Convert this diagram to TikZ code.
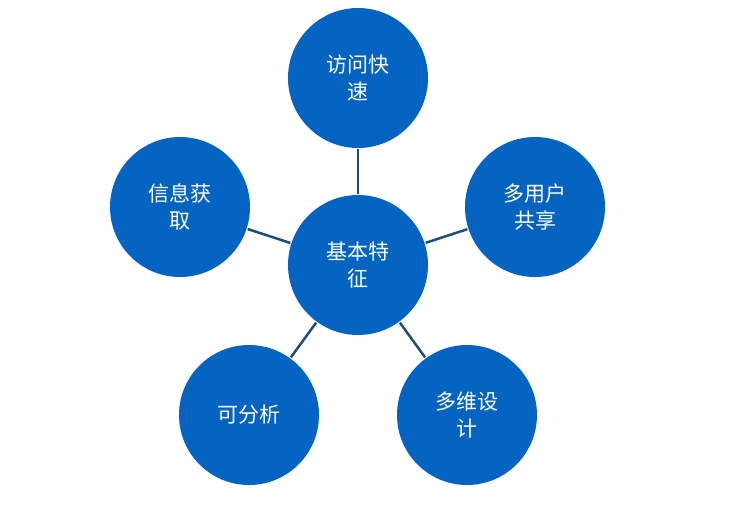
\documentclass[tikz,border=0pt]{standalone}
\usepackage{fontspec}
\setmainfont{Noto Sans CJK SC}
\definecolor{cfill}{RGB}{5,99,193}
\definecolor{cline}{RGB}{31,78,121}
\begin{document}
\begin{tikzpicture}[x=1pt,y=-1pt,
  circ/.style={circle,fill=cfill,minimum size=140pt,inner sep=0pt,text=white,font=\fontsize{21}{27}\selectfont,align=center},
  link/.style={draw=cline,line width=2.5pt,shorten <=1pt,shorten >=1pt}]
\useasboundingbox (0,0) rectangle (750,507);
\node[circ] (c) at (358,265) {基本特\\征};
\node[circ] (t) at (358,78) {访问快\\速};
\node[circ] (r) at (535,207) {多用户\\共享};
\node[circ] (rb) at (467,415) {多维设\\计};
\node[circ] (lb) at (249,415) {可分析};
\node[circ] (l) at (180,207) {信息获\\取};
\foreach \n in {t,r,rb,lb,l} \draw[link] (c) -- (\n);
\end{tikzpicture}
\end{document}
